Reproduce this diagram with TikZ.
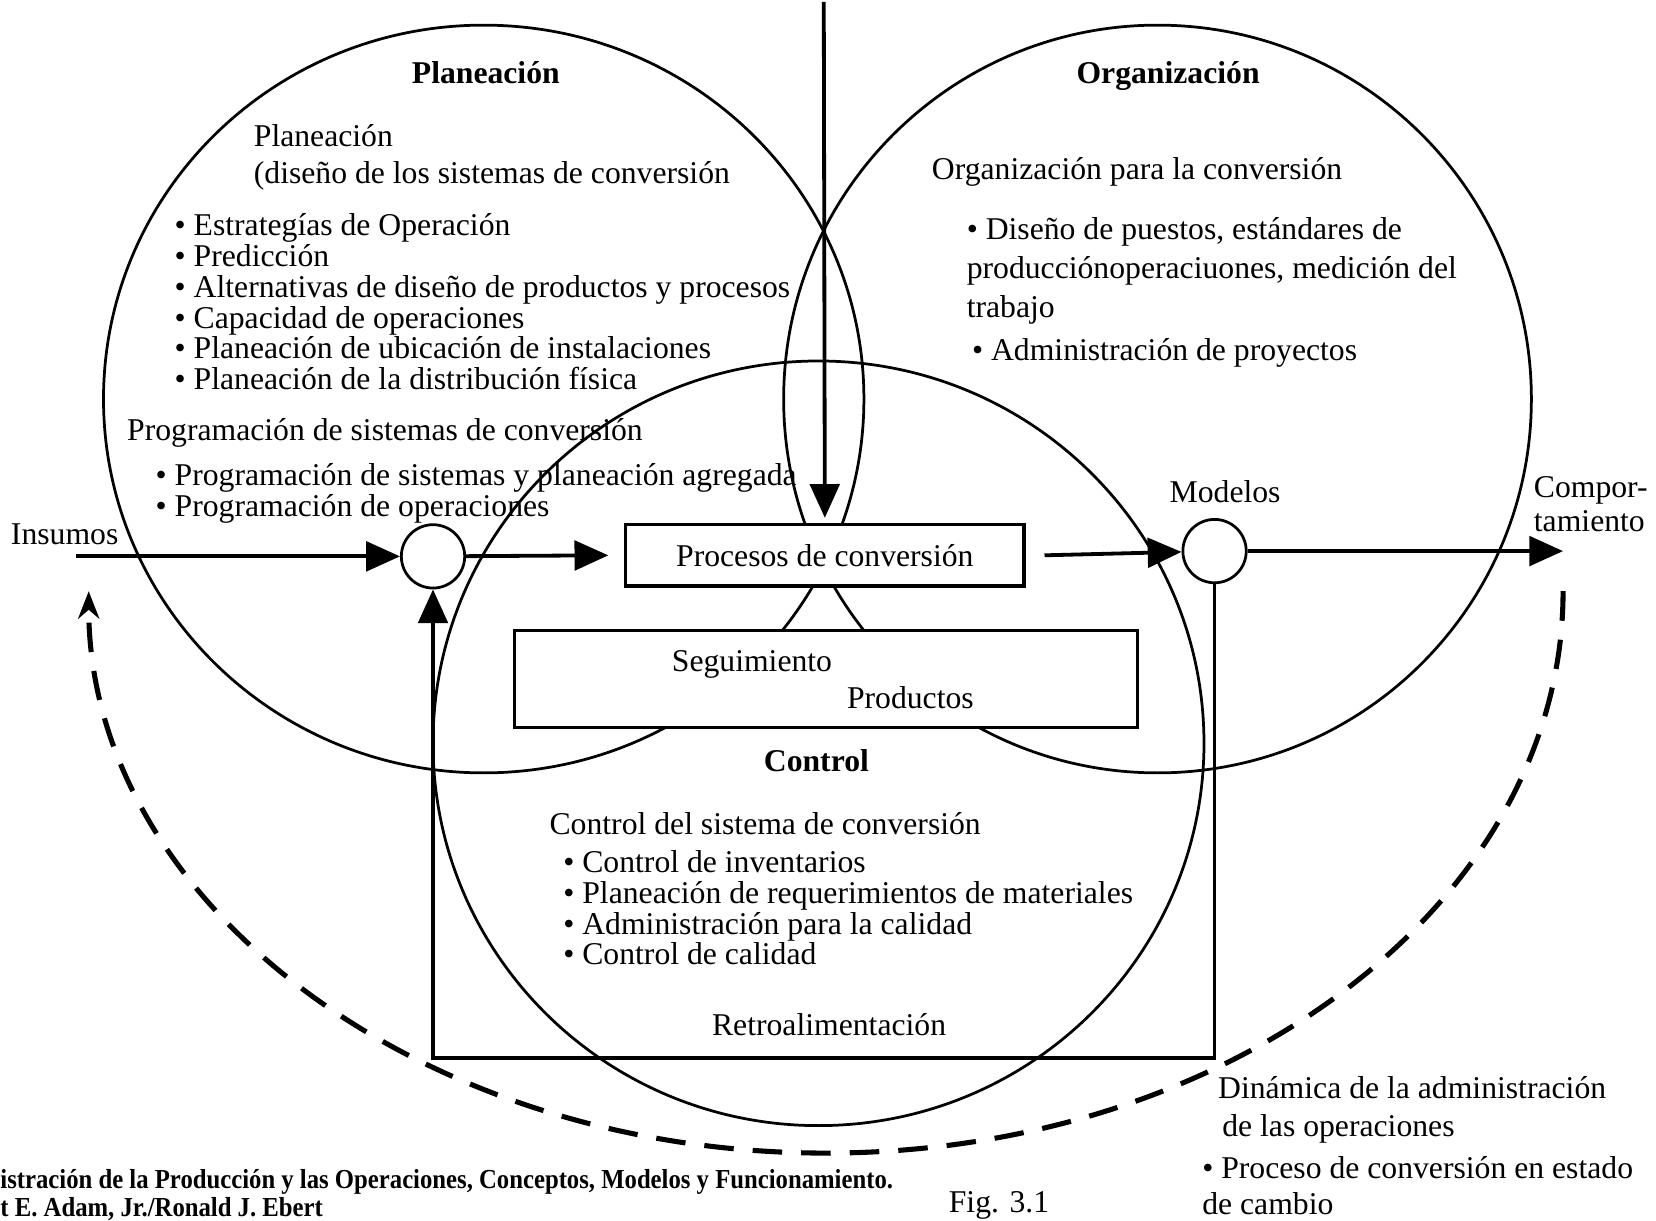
\documentclass[tikz,border=0pt]{standalone}
\usepackage{fontspec}
\setmainfont{Liberation Serif}
\newfontfamily\citefont{Liberation Serif}[FakeStretch=0.9]
\usepackage{tikz}
\usetikzlibrary{arrows.meta}

\begin{document}
\begin{tikzpicture}[x=0.5pt,y=-0.5pt,
ring/.style={line width=1.3pt},
box/.style={draw, line width=1.5pt, fill=white, inner sep=0pt, font=\fontsize{15}{18}\selectfont},
hub/.style={draw, circle, line width=1.3pt, fill=white, minimum size=30pt, inner sep=0pt},
flow/.style={line width=1.8pt, -{Triangle[length=16pt,width=14pt]}},
txt/.style={inner sep=0pt, align=left, font=\fontsize{15}{14.6}\selectfont},
head/.style={inner sep=0pt, anchor=base, font=\fontsize{15}{18}\selectfont\bfseries}]
\fill[white] (0,0) rectangle (1568,1153);
% the three areas
\draw[ring] (458,376) ellipse [x radius=360, y radius=354];
\draw[ring] (1096,376) ellipse [x radius=354, y radius=354];
\draw[ring] (775,702) ellipse [x radius=365, y radius=362];
\node[head] (planeacion) at (460,77) {Planeación};
\node[head] (organizacion) at (1106,77) {Organización};
\node[head] (control) at (773,729) {Control};
% planeacion
\node[txt, anchor=north west, font=\fontsize{15}{17.5}\selectfont] (disenio) at (240,116) {Planeación\\(diseño de los sistemas de conversión};
\node[txt, anchor=north west] (planlist) at (165,200) {• Estrategías de Operación\\• Predicción\\• Alternativas de diseño de productos y procesos\\• Capacidad de operaciones\\• Planeación de ubicación de instalaciones\\• Planeación de la distribución física};
\node[txt, anchor=north west] (programacion) at (120,394) {Programación de sistemas de conversión};
\node[txt, anchor=north west] (proglist) at (147,437) {• Programación de sistemas y planeación agregada\\• Programación de operaciones};
% organizacion
\node[txt, anchor=north west] (orgconv) at (882,147) {Organización para la conversión};
\node[txt, anchor=north west, font=\fontsize{15}{18.5}\selectfont] (orglist) at (915,204) {• Diseño de puestos, estándares de\\producciónoperaciuones, medición del\\trabajo};
\node[txt, anchor=north west] (proyectos) at (920,318) {• Administración de proyectos};
% control
\node[txt, anchor=north west] (ctlconv) at (520,767) {Control del sistema de conversión};
\node[txt, anchor=north west] (ctllist) at (533,803) {• Control de inventarios\\• Planeación de requerimientos de materiales\\• Administración para la calidad\\• Control de calidad};
% conversion
\node[box, minimum width=188.5pt, minimum height=29pt] (procesos) at (781,524) {Procesos de conversión};
\node[box, minimum width=295pt, minimum height=46pt] (seguimiento) at (782,641) {};
\node[txt, anchor=base] (segtxt) at (712,634) {Seguimiento};
\node[txt, anchor=base] (prodtxt) at (862,669) {Productos};
\node[hub] (entrada) at (410,525) {};
\node[hub] (modelos) at (1150,520) {};
\node[txt, anchor=base] (modtxt) at (1160,474) {Modelos};
\node[txt, anchor=base west] (insumos) at (10,514) {Insumos};
\node[txt, anchor=north west, font=\fontsize{15}{16}\selectfont] (comport) at (1452,449) {Compor-\\tamiento};
\node[txt, anchor=base] (retro) at (785,979) {Retroalimentación};
\coordinate (insumosin) at (72,525);
\coordinate (arriba) at (780,0);
\coordinate (salida) at (1480,520);
\coordinate (retrobase) at (780,1000);
\draw[flow] (insumosin) -- (entrada);
\draw[flow] (entrada) -- ([xshift=-7.5pt]procesos.west);
\draw[flow] ([xshift=9pt]procesos.east) -- (modelos);
\draw[flow] (modelos) -- (salida);
\draw[flow] (arriba) -- ([yshift=2.5pt]procesos.north);
\draw[flow] (modelos.south) |- (retrobase) -| (entrada.south);
% dinamica
\coordinate (dinamica) at (1480,558);
\draw[line width=2.4pt, dash pattern=on 14pt off 9pt, -{Stealth[length=13pt,width=10pt]}] (dinamica) arc [start angle=0, end angle=180, x radius=698, y radius=532];
\node[txt, anchor=north west, font=\fontsize{15}{18}\selectfont] (dintxt) at (1153,1017) {Dinámica de la administración\\\hspace{2pt}de las operaciones};
\node[txt, anchor=north west, font=\fontsize{15}{17}\selectfont] (cambio) at (1138,1093) {• Proceso de conversión en estado\\de cambio};
% fuente
\node[inner sep=0pt, anchor=base west, font=\citefont\fontsize{13}{13}\selectfont\bfseries] (obra) at (0,1124) {istración de la Producción y las Operaciones, Conceptos, Modelos y Funcionamiento.};
\node[inner sep=0pt, anchor=base west, font=\citefont\fontsize{13}{13}\selectfont\bfseries] (autores) at (0,1150) {t E. Adam, Jr./Ronald J. Ebert};
\node[txt, anchor=base west] (fig) at (898,1146) {Fig. 3.1};
\end{tikzpicture}
\end{document}
